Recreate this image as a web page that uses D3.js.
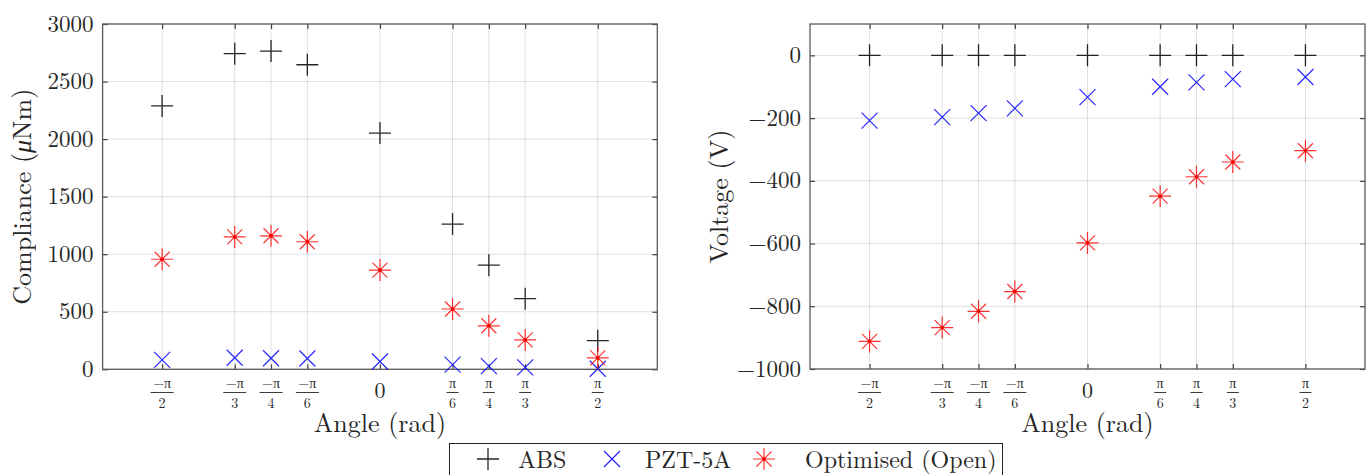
<!DOCTYPE html>
<html>
<head>
<meta charset="utf-8">
<script src="https://cdn.jsdelivr.net/npm/d3@7"></script>
<style>
body { margin: 0; background: #fff; }
svg { display: block; }
text { font-family: "Latin Modern Roman", "CMU Serif", "Liberation Serif", serif; fill: #262626; }
.grid line { stroke: #000; stroke-opacity: 0.12; stroke-width: 1; }
.frame { fill: none; stroke: #5a5a5a; stroke-width: 1.3; }
</style>
</head>
<body>
<script>
// angles (rad) and their tick labels
var angles = [-Math.PI/2, -Math.PI/3, -Math.PI/4, -Math.PI/6, 0, Math.PI/6, Math.PI/4, Math.PI/3, Math.PI/2];
var tickNum = ["\u2212\u03c0", "\u2212\u03c0", "\u2212\u03c0", "\u2212\u03c0", "0", "\u03c0", "\u03c0", "\u03c0", "\u03c0"];
var tickDen = ["2", "3", "4", "6", "", "6", "4", "3", "2"];

// compliance (uNm)
var compABS = [2288, 2742, 2765, 2646, 2052, 1262, 905, 614, 249];
var compPZT = [82, 100, 96, 94, 68, 41, 27, 17, 5];
var compOpt = [956, 1150, 1160, 1108, 862, 524, 378, 255, 99];

// voltage (V)
var voltABS = [0, 0, 0, 0, 0, 0, 0, 0, 0];
var voltPZT = [-208, -197, -184, -169, -133, -100, -86, -76, -69];
var voltOpt = [-912, -868, -816, -753, -598, -449, -387, -340, -304];

var compTicks = [0, 500, 1000, 1500, 2000, 2500, 3000];
var voltTicks = [-1000, -800, -600, -400, -200, 0];

var seriesNames = ["ABS", "PZT-5A", "Optimised (Open)"];
var seriesColors = ["#000000", "#0000ff", "#ff0000"];
var seriesShapes = ["plus", "cross", "star"];

var W = 1372, H = 475;
var svg = d3.select(document.body).append("svg")
	.attr("width", W)
	.attr("height", H);

function marker(g, shape, color, x, y) {
	var p = d3.path();
	if (shape == "plus") {
		p.moveTo(x - 11, y); p.lineTo(x + 11, y);
		p.moveTo(x, y - 11); p.lineTo(x, y + 11);
	} else if (shape == "cross") {
		p.moveTo(x - 8, y - 8); p.lineTo(x + 8, y + 8);
		p.moveTo(x - 8, y + 8); p.lineTo(x + 8, y - 8);
	} else {
		p.moveTo(x - 11, y); p.lineTo(x + 11, y);
		p.moveTo(x, y - 11); p.lineTo(x, y + 11);
		p.moveTo(x - 7.5, y - 7.5); p.lineTo(x + 7.5, y + 7.5);
		p.moveTo(x - 7.5, y + 7.5); p.lineTo(x + 7.5, y - 7.5);
	}
	g.append("path")
		.attr("d", p.toString())
		.attr("fill", "none")
		.attr("stroke", color)
		.attr("stroke-width", shape == "plus" ? 1.3 : 1.2)
		.attr("stroke-opacity", shape == "star" ? 0.8 : 0.85);
	if (shape == "star") {
		g.append("circle").attr("cx", x).attr("cy", y).attr("r", 1.8).attr("fill", color);
	}
}

function fmt(v) {
	return v < 0 ? "\u2212" + Math.abs(v) : String(v);
}

function panel(left, right, top, bottom, yDomain, yTicks, yLabel, series) {
	var x = d3.scaleLinear().domain([-2, 2]).range([left, right]);
	var y = d3.scaleLinear().domain(yDomain).range([bottom, top]);
	var g = svg.append("g");

	// grid
	var grid = g.append("g").attr("class", "grid");
	grid.selectAll(".gx").data(angles).enter().append("line")
		.attr("x1", function (d) { return x(d); })
		.attr("x2", function (d) { return x(d); })
		.attr("y1", top).attr("y2", bottom);
	grid.selectAll(".gy").data(yTicks).enter().append("line")
		.attr("x1", left).attr("x2", right)
		.attr("y1", function (d) { return y(d); })
		.attr("y2", function (d) { return y(d); });

	// axes with inward ticks
	var ax = g.append("g").attr("transform", "translate(0," + bottom + ")")
		.call(d3.axisBottom(x).tickValues(angles).tickSize(-5).tickFormat(""));
	var axTop = g.append("g").attr("transform", "translate(0," + top + ")")
		.call(d3.axisTop(x).tickValues(angles).tickSize(-5).tickFormat(""));
	var ay = g.append("g").attr("transform", "translate(" + left + ",0)")
		.call(d3.axisLeft(y).tickValues(yTicks).tickSize(-5).tickFormat(""));
	var ayR = g.append("g").attr("transform", "translate(" + right + ",0)")
		.call(d3.axisRight(y).tickValues(yTicks).tickSize(-5).tickFormat(""));
	[ax, axTop, ay, ayR].forEach(function (a) {
		a.select(".domain").remove();
		a.selectAll(".tick line").attr("stroke", "#404040").attr("stroke-width", 1.2);
	});
	g.append("rect").attr("class", "frame")
		.attr("x", left).attr("y", top)
		.attr("width", right - left).attr("height", bottom - top);

	// y tick labels
	g.selectAll(".yl").data(yTicks).enter().append("text")
		.attr("x", left - 9)
		.attr("y", function (d) { return y(d) + 7.5; })
		.attr("text-anchor", "end")
		.style("font-size", "23px")
		.text(fmt);

	// x tick labels as fractions
	angles.forEach(function (a, i) {
		var cx = x(a);
		if (tickDen[i] == "") {
			g.append("text").attr("x", cx).attr("y", 398)
				.attr("text-anchor", "middle").style("font-size", "22px").text(tickNum[i]);
			return;
		}
		g.append("text").attr("x", cx).attr("y", 388)
			.attr("text-anchor", "middle").style("font-size", "14px").text(tickNum[i]);
		var w = tickNum[i].length > 1 ? 11.5 : 6;
		g.append("line").attr("x1", cx - w).attr("x2", cx + w)
			.attr("y1", 392.5).attr("y2", 392.5)
			.attr("stroke", "#262626").attr("stroke-width", 0.9);
		g.append("text").attr("x", cx).attr("y", 408)
			.attr("text-anchor", "middle").style("font-size", "14px").text(tickDen[i]);
	});

	// axis labels
	g.append("text")
		.attr("x", (left + right) / 2).attr("y", 432)
		.attr("text-anchor", "middle").style("font-size", "26px")
		.text("Angle (rad)");
	g.append("text")
		.attr("transform", "translate(" + (left - yLabel.dx) + "," + ((top + bottom) / 2) + ") rotate(-90)")
		.attr("text-anchor", "middle").style("font-size", "26px")
		.html(yLabel.html);

	// markers
	series.forEach(function (vals, s) {
		var mg = g.append("g");
		vals.forEach(function (v, i) {
			marker(mg, seriesShapes[s], seriesColors[s], x(angles[i]), y(v));
		});
	});
}

panel(102.6, 657.3, 24, 369.3, [0, 3000], compTicks,
	{ dx: 72, html: "Compliance (<tspan font-style=\"italic\">\u03bc</tspan>Nm)" },
	[compABS, compPZT, compOpt]);
panel(810, 1365, 24, 369, [-1000, 100], voltTicks,
	{ dx: 82, html: "Voltage (V)" },
	[voltABS, voltPZT, voltOpt]);

// legend
var legend = svg.append("g");
legend.append("rect")
	.attr("x", 449.5).attr("y", 443.5)
	.attr("width", 553).attr("height", 40)
	.attr("fill", "#fff").attr("stroke", "#262626").attr("stroke-width", 1);
var legMarkX = [488, 612, 764];
var legTextX = [518, 645, 805];
seriesNames.forEach(function (name, i) {
	marker(legend, seriesShapes[i], seriesColors[i], legMarkX[i], 459);
	legend.append("text")
		.attr("x", legTextX[i]).attr("y", 468)
		.style("font-size", "24px")
		.text(name);
});
</script>
</body>
</html>
